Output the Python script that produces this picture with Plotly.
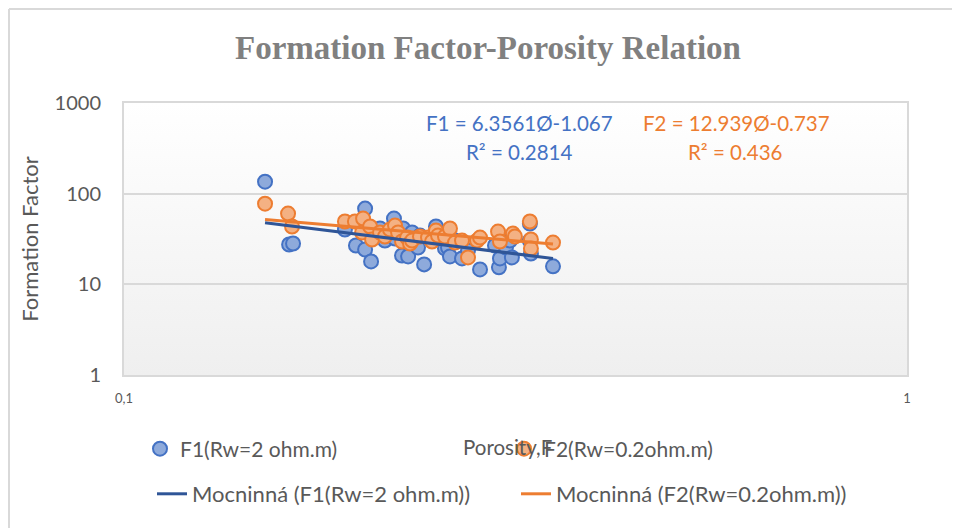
import numpy as np
import plotly.graph_objects as go
import base64

# ---------------- data ----------------
phi_f1 = [0.1514, 0.1625, 0.1644, 0.1915, 0.1978, 0.2032, 0.2032, 0.2068, 0.2123, 0.2154,
          0.2186, 0.2212, 0.2219, 0.2272, 0.2285, 0.2265, 0.2306, 0.2333, 0.2374, 0.2388,
          0.2417, 0.2503, 0.2533, 0.2570, 0.2593, 0.2608, 0.2647, 0.2702, 0.2750, 0.2849,
          0.2977, 0.3012, 0.3021, 0.3075, 0.3111, 0.3129, 0.3299, 0.3309, 0.3299, 0.3531]
ff_f1 = [135.5, 27.5, 28.2, 40.2, 26.8, 68.4, 24.2, 17.9, 41.3, 30.4,
         36.3, 53.1, 32.0, 41.3, 28.2, 20.8, 20.3, 37.3, 25.5, 34.5,
         16.6, 43.4, 34.5, 24.9, 25.5, 20.3, 30.4, 19.3, 23.6, 14.6,
         26.8, 15.4, 19.3, 25.5, 30.4, 19.8, 46.8, 21.9, 30.4, 15.8]

phi_f2 = [0.1514, 0.1620, 0.1639, 0.1915, 0.1972, 0.2020, 0.2014, 0.2062, 0.2074, 0.2123,
          0.2154, 0.2186, 0.2219, 0.2239, 0.2265, 0.2299, 0.2319, 0.2333, 0.2388, 0.2445,
          0.2474, 0.2503, 0.2518, 0.2570, 0.2608, 0.2647, 0.2702, 0.2750, 0.2824, 0.2849,
          0.3004, 0.3021, 0.3138, 0.3157, 0.3299, 0.3309, 0.3309, 0.3531]
ff_f2 = [77.6, 60.3, 43.4, 49.3, 49.3, 53.1, 37.3, 43.4, 31.2, 37.3,
         33.7, 40.2, 44.5, 37.3, 29.7, 32.8, 28.2, 30.4, 33.7, 32.8,
         29.7, 39.2, 34.5, 33.7, 41.3, 28.9, 30.4, 19.8, 30.4, 32.8,
         38.2, 29.7, 36.3, 33.7, 49.3, 31.2, 24.9, 28.9]

# power-law trendline coefficients shown on the chart
fit_f1 = (6.3561, -1.067)
fit_f2 = (12.939, -0.737)

series_names = ["F1(Rw=2 ohm.m)", "F2(Rw=0.2ohm.m)"]
trend_names = ["Mocninná (F1(Rw=2 ohm.m))", "Mocninná (F2(Rw=0.2ohm.m))"]
eq_texts = ["F1 = 6.3561Ø-1.067", "R² = 0.2814", "F2 = 12.939Ø-0.737", "R² = 0.436"]

x_tickvals = [0.1, 1]
x_ticktext = ["0,1", "1"]
y_tickvals = [1, 10, 100, 1000]
y_ticktext = ["1", "10", "100", "1000"]

# ---------------- layout geometry ----------------
OFF = 8                      # page body margin
W, H = 952, 520
ML, MT = 116, 95
MR = W - (907 - OFF)
MB = H - (375 - OFF)
PW, PH = W - ML - MR, H - MT - MB

def px_x(p):   # window pixel -> paper x
    return (p - OFF - ML) / PW

def px_y(p):   # window pixel -> paper y
    return (H - MB - (p - OFF)) / PH

FONT = "Lato"
TXT = "#595959"
BLUE_FILL, BLUE_LINE, BLUE_TREND = "#8eaadb", "#4472c4", "#2f5597"
OR_FILL, OR_LINE, OR_TREND = "#f4b183", "#ed7d31", "#ed7d31"

fig = go.Figure()

fig.add_trace(go.Scatter(
    x=phi_f1, y=ff_f1, mode="markers", name=series_names[0],
    marker=dict(size=14, color=BLUE_FILL, line=dict(color=BLUE_LINE, width=2)),
    legend="legend"))
fig.add_trace(go.Scatter(
    x=phi_f2, y=ff_f2, mode="markers", name=series_names[1],
    marker=dict(size=14, color=OR_FILL, line=dict(color=OR_LINE, width=2)),
    legend="legend"))

for (a, b), xs, name, col in [(fit_f1, phi_f1, trend_names[0], BLUE_TREND),
                              (fit_f2, phi_f2, trend_names[1], OR_TREND)]:
    xt = np.array([min(xs), max(xs)])
    yt = a * xt ** b
    fig.add_trace(go.Scatter(x=xt, y=yt, mode="lines", name=name,
                             line=dict(color=col, width=3), legend="legend2"))

# gradient background for plot area
svg = ('<svg xmlns="http://www.w3.org/2000/svg" width="100" height="100" preserveAspectRatio="none">'
       '<defs><linearGradient id="g" x1="0" y1="0" x2="0" y2="1">'
       '<stop offset="0" stop-color="#ffffff"/><stop offset="1" stop-color="#efefef"/>'
       '</linearGradient></defs><rect width="100" height="100" fill="url(#g)"/></svg>')
src = "data:image/svg+xml;base64," + base64.b64encode(svg.encode()).decode()

legend_common = dict(orientation="h", xanchor="left", yanchor="middle",
                     bgcolor="rgba(0,0,0,0)", entrywidth=319, entrywidthmode="pixels",
                     traceorder="normal")

fig.update_layout(
    width=W, height=H,
    margin=dict(l=ML, r=MR, t=MT, b=MB),
    paper_bgcolor="white", plot_bgcolor="#f8f8f8",
    title=dict(text="Formation Factor-Porosity Relation", x=(488 - OFF) / W, xanchor="center",
               y=1 - (47 - OFF) / H, yanchor="middle",
               font=dict(family="Liberation Serif", size=33, color="#808080", weight="bold")),
    xaxis=dict(type="log", range=[-1, 0], tickvals=x_tickvals, ticktext=x_ticktext,
               showgrid=False, zeroline=False, showline=True, mirror=True,
               linecolor="#d9d9d9", linewidth=2,
               ticks="outside", ticklen=10, tickcolor="rgba(0,0,0,0)",
               tickfont=dict(family=FONT, size=13, color=TXT)),
    yaxis=dict(type="log", range=[0, 3], tickvals=y_tickvals, ticktext=y_ticktext,
               showgrid=True, gridcolor="#d9d9d9", gridwidth=1.5, zeroline=False,
               showline=True, mirror=True, linecolor="#d9d9d9", linewidth=2,
               ticks="outside", ticklen=17, tickcolor="rgba(0,0,0,0)",
               tickfont=dict(family=FONT, size=20, color=TXT),
               title=dict(text="Formation Factor", font=dict(family=FONT, size=22, color=TXT),
                          standoff=10)),
    legend=dict(x=px_x(140), y=px_y(449), font=dict(family=FONT, size=21, color=TXT),
                **legend_common),
    legend2=dict(x=px_x(152), y=px_y(494), font=dict(family=FONT, size=22, color=TXT),
                 **legend_common),
    images=[dict(source=src, xref="paper", yref="paper", x=0, y=1, sizex=1, sizey=1,
                 sizing="stretch", xanchor="left", yanchor="top", layer="below")],
    showlegend=True,
)

annots = [
    (eq_texts[0], 519, 123, BLUE_LINE),
    (eq_texts[1], 519, 152, BLUE_LINE),
    (eq_texts[2], 736, 123, OR_LINE),
    (eq_texts[3], 735, 152, OR_LINE),
]
for t, xp, yp, c in annots:
    fig.add_annotation(text=t, xref="paper", yref="paper", x=px_x(xp), y=px_y(yp),
                       xanchor="center", yanchor="middle", showarrow=False,
                       font=dict(family=FONT, size=20.5, color=c))

fig.add_annotation(text="Porosity,F", xref="paper", yref="paper", x=px_x(507), y=px_y(447),
                   xanchor="center", yanchor="middle", showarrow=False,
                   font=dict(family=FONT, size=20.5, color=TXT))

# chart area border (top and left edges visible)
fig.add_shape(type="line", xref="paper", yref="paper", x0=px_x(9), x1=px_x(970),
              y0=px_y(9), y1=px_y(9), line=dict(color="#d9d9d9", width=2))
fig.add_shape(type="line", xref="paper", yref="paper", x0=px_x(9), x1=px_x(9),
              y0=px_y(9), y1=px_y(540), line=dict(color="#d9d9d9", width=2))

fig.write_html("out.html")
